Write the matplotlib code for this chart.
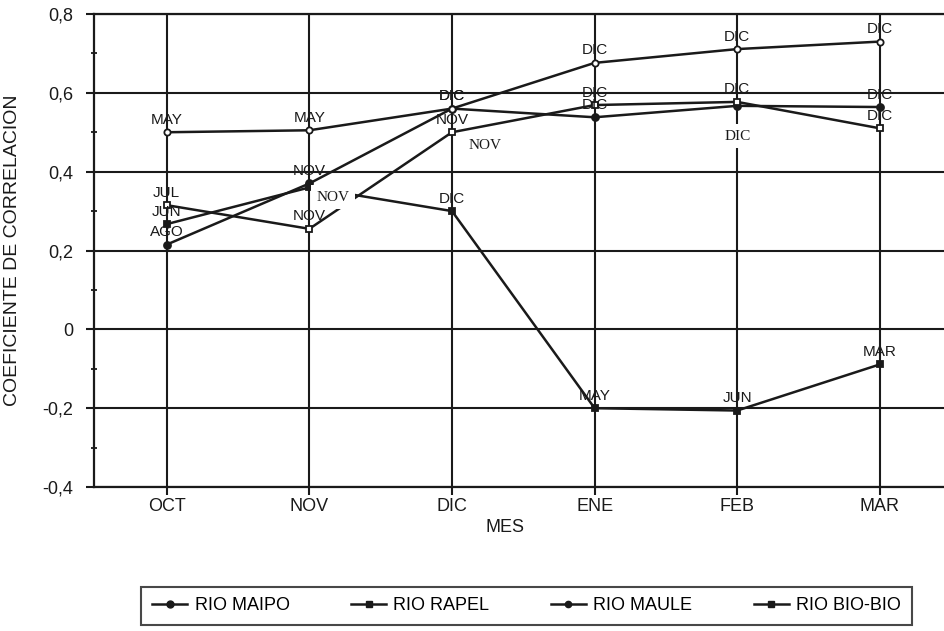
import matplotlib
matplotlib.use("Agg")
import matplotlib.pyplot as plt
from matplotlib.ticker import MultipleLocator, FuncFormatter
from matplotlib.lines import Line2D

plt.rcParams.update({"font.family": ["Liberation Sans", "DejaVu Sans"], "font.size": 13})

MESES = ["OCT", "NOV", "DIC", "ENE", "FEB", "MAR"]

maipo = [0.215, 0.37, 0.56, 0.538, 0.567, 0.564]
rapel = [0.315, 0.255, 0.50, 0.569, 0.577, 0.51]
maule = [0.50, 0.505, 0.56, 0.676, 0.711, 0.73]
biobio = [0.267, 0.36, 0.30, -0.20, -0.206, -0.089]

# month of the best correlation, written over each point ("" = hidden under a neighbour)
maipo_lbl = ["AGO", "NOV", "DIC", "DIC", "", "DIC"]
rapel_lbl = ["JUL", "NOV", "NOV", "DIC", "DIC", "DIC"]
maule_lbl = ["MAY", "MAY", "DIC", "DIC", "DIC", "DIC"]
biobio_lbl = ["JUN", "", "DIC", "MAY", "JUN", "MAR"]

# loose serif labels sitting on the chart (text, month-index, value)
extra = [("NOV", 2.23, 0.467), ("NOV", 1.165, 0.335), ("DIC", 4.0, 0.49)]

INK = "#1a1a1a"

fig = plt.figure(figsize=(9.44, 6.31), dpi=100)
ax = fig.add_axes([94 / 944, 1 - 487 / 631, 850 / 944, 473 / 631])

x = list(range(len(MESES)))
series = [
    ("RIO MAIPO", maipo, maipo_lbl, dict(marker="o", ms=5, mfc=INK)),
    ("RIO RAPEL", rapel, rapel_lbl, dict(marker="s", ms=5, mfc="white")),
    ("RIO MAULE", maule, maule_lbl, dict(marker="o", ms=4.5, mfc="white")),
    ("RIO BIO-BIO", biobio, biobio_lbl, dict(marker="s", ms=5, mfc=INK)),
]
for name, vals, lbls, st in series:
    ax.plot(x, vals, color=INK, lw=1.8, mec=INK, mew=1.3, zorder=3, **st)
    for xi, v, t in zip(x, vals, lbls):
        if t:
            ax.annotate(t, (xi, v), xytext=(0, 9), textcoords="offset points",
                        ha="center", va="center", fontsize=11, color=INK, zorder=4)

for t, xi, v in extra:
    ax.text(xi, v, t, ha="center", va="center", fontsize=11, color=INK,
            family=["Liberation Serif", "DejaVu Serif"], zorder=5,
            bbox=dict(fc="white", ec="none", pad=4))

ax.set_xlim(-0.51, 5.45)
ax.set_ylim(-0.4, 0.8)
ax.set_xticks(x)
ax.set_xticklabels(MESES)
ax.yaxis.set_major_locator(MultipleLocator(0.2))
ax.yaxis.set_minor_locator(MultipleLocator(0.1))
ax.yaxis.set_major_formatter(FuncFormatter(
    lambda v, p: "0" if abs(v) < 1e-9 else f"{v:.1f}".replace(".", ",")))
ax.grid(True, which="major", color=INK, lw=1.5)
ax.set_axisbelow(True)

ax.tick_params(axis="y", which="major", length=6, width=1.5, pad=9, colors=INK)
ax.tick_params(axis="y", which="minor", direction="inout", length=5, width=1.3, color=INK)
ax.tick_params(axis="x", which="major", length=6, width=1.5, pad=2, colors=INK)
for s in ("left", "bottom", "top"):
    ax.spines[s].set_linewidth(1.6)
    ax.spines[s].set_color(INK)
ax.spines["right"].set_visible(False)

ax.set_ylabel("COEFICIENTE DE CORRELACION", fontsize=14, color=INK)
ax.yaxis.set_label_coords(-0.086, 0.5)
ax.set_xlabel("MES", fontsize=13, color=INK)
ax.xaxis.set_label_coords((505 - 94) / 850, -(528 - 487) / 473)
ax.xaxis.label.set_va("center")

handles = [Line2D([], [], color=INK, lw=1.8, mec=INK, **st) for _, _, _, st in series]
handles[1].set_markerfacecolor(INK)
handles[2].set_markerfacecolor(INK)
leg = fig.legend(handles, [s[0] for s in series], loc="center",
                 bbox_to_anchor=(526.5 / 944, 1 - 606 / 631), ncol=4,
                 fancybox=False, edgecolor=INK, handlelength=1.95,
                 handletextpad=0.4, columnspacing=3.4, fontsize=13,
                 borderpad=0.6)
leg.get_frame().set_linewidth(1.5)

fig.savefig("out.png", dpi=100)
